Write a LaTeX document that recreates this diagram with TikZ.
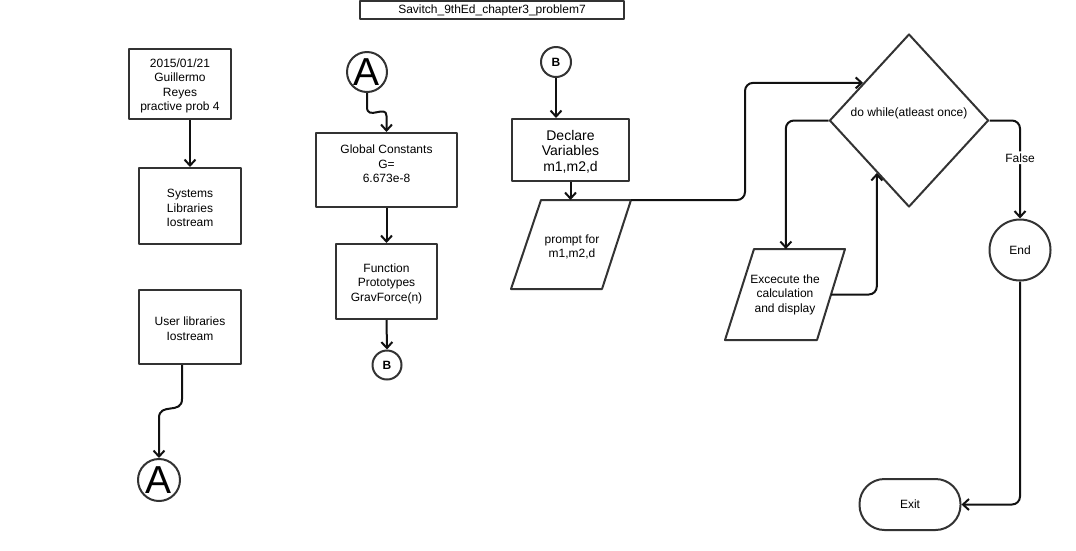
\documentclass[tikz,border=0pt]{standalone}
\usepackage{fontspec}
\setmainfont{Liberation Sans}
\usetikzlibrary{arrows.meta,shapes.geometric,calc}
\definecolor{edge}{HTML}{333333}
\definecolor{wirec}{HTML}{111111}
\tikzset{
  box/.style={draw=edge, line width=2pt, inner sep=0pt},
  txt/.style={align=center, inner sep=0pt, font=\fontsize{12}{14.5}\selectfont},
  con/.style={circle, draw=edge, line width=2pt, inner sep=0pt},
  wire/.style={draw=wirec, line width=2pt},
  arr/.style={wire, -{Straight Barb[length=6pt,width=11pt]}},
}
\begin{document}
\begin{tikzpicture}[x=1pt,y=-1pt,line join=round]
\useasboundingbox (0,0) rectangle (1076,550);

% title
\node[box, minimum width=264, minimum height=18] (title) at (492,10) {};
\node[txt] (titletext) at (title) {Savitch\_9thEd\_chapter3\_problem7};

% first column
\node[box, minimum width=102, minimum height=70] (info) at (180,84) {};
\node[txt] (infotext) at (180,86) {2015/01/21\\Guillermo\\Reyes\\practive prob 4};
\node[box, minimum width=102, minimum height=76] (syslib) at (190,206) {};
\node[txt] (syslibtext) at (190,208) {Systems\\Libraries\\Iostream};
\node[box, minimum width=102, minimum height=74] (userlib) at (190,327) {};
\node[txt] (userlibtext) at (190,328.5) {User libraries\\Iostream};
\node[con, minimum size=42, font=\fontsize{39}{39}\selectfont] (conA2) at (159,480) {A};

% second column
\node[con, minimum size=40, font=\fontsize{39}{39}\selectfont] (conA1) at (367,72) {A};
\node[box, minimum width=141, minimum height=74] (globals) at (386.5,170) {};
\node[txt] (globalstext) at (386.5,164) {Global Constants\\G=\\6.673e-8};
\node[box, minimum width=101, minimum height=75] (proto) at (386.5,281.5) {};
\node[txt] (prototext) at (386.5,283.5) {Function\\Prototypes\\GravForce(n)};
\node[con, minimum size=29, font=\fontsize{12}{12}\selectfont\bfseries] (conB1) at (387,365) {B};

% third column
\node[con, minimum size=30, font=\fontsize{12}{12}\selectfont\bfseries] (conB2) at (556,62) {B};
\node[box, minimum width=117, minimum height=62] (declare) at (570.5,150) {};
\node[txt, font=\fontsize{14}{15.5}\selectfont] (declaretext) at (570.5,151.5) {Declare\\Variables\\m1,m2,d};
\draw[box] (541,200) coordinate (ptl) -- (631,200) coordinate (ptr)
  -- (602,289) coordinate (pbr) -- (511,289) coordinate (pbl) -- cycle;
\node[txt] (prompt) at (572,247) {prompt for\\m1,m2,d};

% loop
\node[diamond, draw=edge, line width=2pt, inner sep=0pt,
      minimum width=159, minimum height=173] (loop) at (909,120.5) {};
\node[txt] (looptext) at (909,113) {do while(atleast once)};
\draw[box] (754,249) coordinate (etl) -- (845,249) coordinate (etr)
  -- (817,340) coordinate (ebr) -- (725,340) coordinate (ebl) -- cycle;
\node[txt] (exec) at (785,294.5) {Excecute the\\calculation\\and display};
\node[con, minimum size=61] (end) at (1020,250) {};
\node[txt] (endtext) at (end) {End};
\node[box, rounded corners=25pt, minimum width=101, minimum height=51] (exit) at (910,504.5) {};
\node[txt] (exittext) at (exit) {Exit};

% connection points
\coordinate (loopin) at ($(loop.west)!0.43!(loop.north)$);
\coordinate (loopback) at ($(loop.west)!0.6!(loop.south)$);
\coordinate (etop) at ($(etl)!0.35!(etr)$);
\coordinate (eright) at ($(etr)!0.5!(ebr)$);

% connectors
\draw[arr] (info.south -| syslib.north) -- (syslib.north);
\draw[arr] ([xshift=-8pt]userlib.south) -- ++(0,34)
  .. controls +(0,16) and +(0,-16) .. ($(conA2.north)+(0,-40)$) -- (conA2.north);
\draw[arr] (conA1.south) -- ++(0,14)
  .. controls +(0,14) and +(0,-12) .. ($(globals.north)+(0,-16)$) -- (globals.north);
\draw[arr] (globals.south) -- (proto.north);
\draw[arr] (proto.south) -- (conB1.north);
\draw[arr] (conB2.south) -- (conB2.south |- declare.north);
\draw[arr] (declare.south) -- (declare.south |- ptl);
\draw[arr, rounded corners=8pt] (ptr) -- ++(114,0) |- (loopin);
\draw[arr, rounded corners=8pt] (loop.west) -| (etop);
\draw[arr, rounded corners=8pt] (eright) -| (loopback);
\draw[arr, rounded corners=8pt] (loop.east) -| node[pos=0.69, fill=white, txt, inner sep=2pt] (falselbl) {False} (end.north);
\draw[arr, rounded corners=8pt] (end.south) |- (exit.east);
\end{tikzpicture}
\end{document}
